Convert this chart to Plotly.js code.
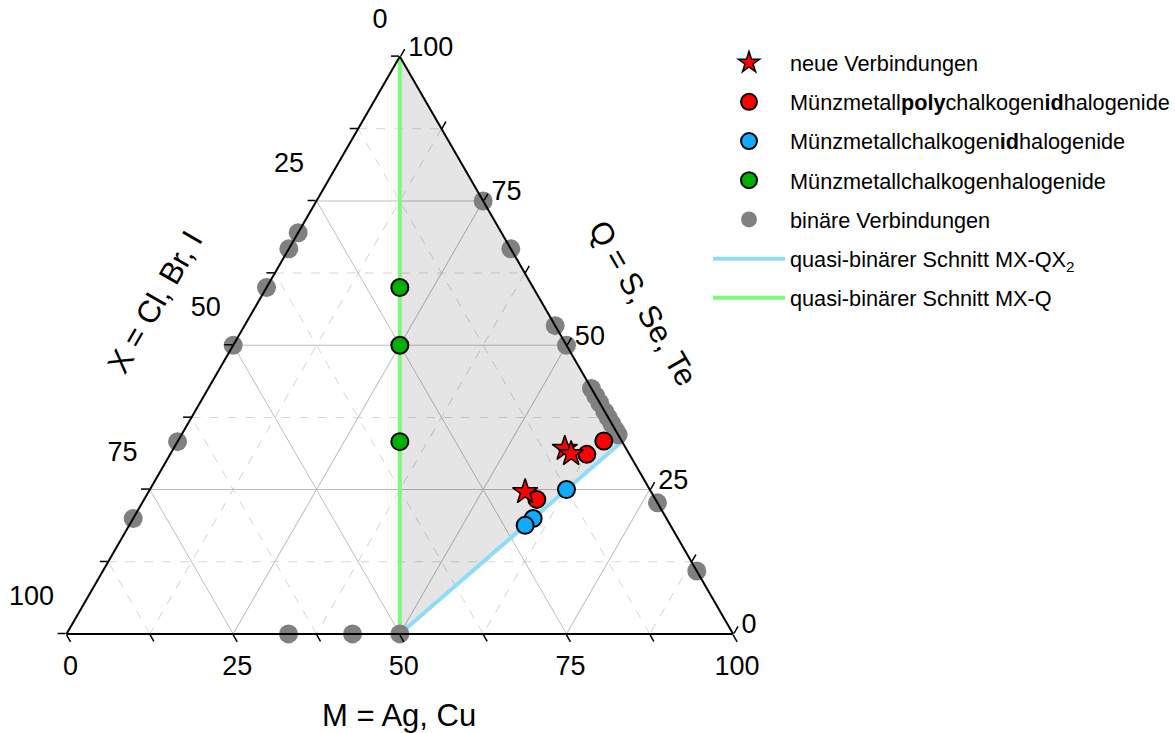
<!DOCTYPE html>
<html><head><meta charset="utf-8">
<script src="https://cdn.plot.ly/plotly-3.0.1.min.js"></script>
<style>html,body{margin:0;padding:0;background:#fff}#chart{width:1175px;height:733px}</style>
</head><body><div id="chart"></div>
<script>
// Ternary components in %: Q (top vertex), X (bottom-left vertex), M (bottom-right vertex)
const majorTicks = [0, 25, 50, 75, 100];
const majorTickText = ['100', '75', '50', '25', '0'];
const minorTicks = [12.5, 37.5, 62.5, 87.5];

// neue Verbindungen
const newQ = [32.1, 31.2, 24.6];
const newX = [9.2, 8.7, 18.9];
const newM = [58.7, 60.1, 56.5];

// Münzmetallpolychalkogenidhalogenide
const polyQ = [33.4, 31.1, 23.3];
const polyX = [2.7, 6.4, 17.8];
const polyM = [63.9, 62.5, 58.9];

// Münzmetallchalkogenidhalogenide
const idQ = [25.0, 20.0, 18.8];
const idX = [12.5, 20.0, 21.8];
const idM = [62.5, 60.0, 59.4];

// Münzmetallchalkogenhalogenide
const chalQ = [60.0, 50.0, 33.3];
const chalX = [20.0, 25.0, 33.35];
const chalM = [20.0, 25.0, 33.35];

// binäre Verbindungen
const binQ = [69.5, 66.7, 60.0, 50.0, 33.3, 20.0,  0.0,  0.0,  0.0,  75.0, 66.7, 53.4, 50.0, 42.5, 41.2, 40.0, 38.5, 37.5, 36.4, 35.3, 34.5, 22.7, 10.9];
const binX = [30.5, 33.3, 40.0, 50.0, 66.7, 80.0, 66.7, 57.1, 50.0,  0.0,  0.0,  0.0,  0.0,  0.0,  0.0,  0.0,  0.0,  0.0,  0.0,  0.0,  0.0,  0.0,  0.0];
const binM = [ 0.0,  0.0,  0.0,  0.0,  0.0,  0.0, 33.3, 42.9, 50.0, 25.0, 33.3, 46.6, 50.0, 57.5, 58.8, 60.0, 61.5, 62.5, 63.6, 64.7, 65.5, 77.3, 89.1];

// quasi-binäre Schnitte and region
const cutQX2Q = [0, 33.33], cutQX2X = [50, 0], cutQX2M = [50, 66.67];
const cutQQ = [0, 100], cutQX = [50, 0], cutQM = [50, 0];
const regionQ = [100, 0, 33.33, 100], regionX = [0, 50, 0, 0], regionM = [0, 50, 66.67, 0];

const FONT = 'Liberation Sans, Arial, sans-serif';

const traces = [
  {type:'scatterternary', subplot:'ternary', a:[], b:[], c:[], mode:'markers', showlegend:false, hoverinfo:'skip'},
  {type:'scatterternary', subplot:'ternary2', a:regionQ, b:regionX, c:regionM, mode:'lines',
   fill:'toself', fillcolor:'rgba(0,0,0,0.10)', line:{width:0, color:'rgba(0,0,0,0)'}, showlegend:false, hoverinfo:'skip'},
  {type:'scatterternary', subplot:'ternary2', a:cutQQ, b:cutQX, c:cutQM, mode:'lines', cliponaxis:false,
   line:{color:'#80f880', width:4}, name:'quasi-binärer Schnitt MX-Q', legendrank:7, legendgroup:'g7'},
  {type:'scatterternary', subplot:'ternary2', a:cutQX2Q, b:cutQX2X, c:cutQX2M, mode:'lines', cliponaxis:false,
   line:{color:'#8fdcfa', width:4}, name:'quasi-binärer Schnitt MX-QX<sub>2</sub>', legendrank:6, legendgroup:'g6'},
  {type:'scatterternary', subplot:'ternary2', a:binQ, b:binX, c:binM, mode:'markers', cliponaxis:false,
   marker:{color:'#808080', size:19, line:{width:0}}, name:'binäre Verbindungen', legendrank:5, legendgroup:'g5'},
  {type:'scatterternary', subplot:'ternary2', a:chalQ, b:chalX, c:chalM, mode:'markers', cliponaxis:false,
   marker:{color:'#00b000', size:17, line:{width:2, color:'#000'}}, name:'Münzmetallchalkogenhalogenide', legendrank:4, legendgroup:'g4'},
  {type:'scatterternary', subplot:'ternary2', a:idQ, b:idX, c:idM, mode:'markers', cliponaxis:false,
   marker:{color:'#10aaff', size:17, line:{width:2, color:'#000'}}, name:'Münzmetallchalkogen<b>id</b>halogenide', legendrank:3, legendgroup:'g3'},
  {type:'scatterternary', subplot:'ternary2', a:polyQ, b:polyX, c:polyM, mode:'markers', cliponaxis:false,
   marker:{color:'#ff0000', size:17, line:{width:2, color:'#000'}}, name:'Münzmetall<b>poly</b>chalkogen<b>id</b>halogenide', legendrank:2, legendgroup:'g2'},
  {type:'scatterternary', subplot:'ternary2', a:newQ, b:newX, c:newM, mode:'markers', cliponaxis:false,
   marker:{color:'#ff0000', size:19, symbol:'star', line:{width:1.5, color:'#000'}}, name:'neue Verbindungen', legendrank:1, legendgroup:'g1'}
];

const dom = {x:[66.7/1175, 735/1175], y:[99/733, 676.5/733]};

function majorAxis(labels){
  return {min:0, tickmode:'array', tickvals:majorTicks, ticktext:labels,
    ticks:'outside', ticklen:8, tickwidth:1.5, tickcolor:'#000',
    showline:true, linecolor:'#000', linewidth:2,
    showgrid:true, gridcolor:'#bdbdbd', gridwidth:1,
    tickfont:{family:FONT, size:27, color:'#000'}, title:{text:''}};
}
function minorAxis(){
  return {min:0, tickmode:'array', tickvals:minorTicks,
    ticks:'outside', ticklen:8, tickwidth:1.5, tickcolor:'#000',
    showticklabels:false, showline:false,
    showgrid:true, gridcolor:'#d6d6d6', gridwidth:1, griddash:'dash', title:{text:''}};
}
// left-edge labels sit above their tick (as in the reference): pad them with empty lines below
const leftLabels = majorTickText.map(t => t + '<br> <br> ');

const layout = {
  width:1175, height:733, margin:{l:0, r:0, t:0, b:0},
  paper_bgcolor:'#fff', font:{family:FONT, color:'#000'},
  ternary:{sum:100, domain:dom, bgcolor:'#fff', aaxis:minorAxis(), baxis:minorAxis(), caxis:minorAxis()},
  ternary2:{sum:100, domain:dom, bgcolor:'rgba(0,0,0,0)',
    aaxis:majorAxis(leftLabels), baxis:majorAxis(majorTickText), caxis:majorAxis(majorTickText)},
  showlegend:true,
  legend:{x:710/1175, y:1 - 42/733, xanchor:'left', yanchor:'top', bgcolor:'rgba(0,0,0,0)',
    font:{family:FONT, size:21.7, color:'#000'}, traceorder:'grouped', tracegroupgap:8, itemwidth:72},
  annotations:[
    {text:'X = Cl, Br, I', xref:'paper', yref:'paper', x:155/1175, y:1-302/733, xanchor:'center', yanchor:'middle', showarrow:false, textangle:-60, font:{size:31, family:FONT}},
    {text:'Q = S, Se, Te', xref:'paper', yref:'paper', x:645/1175, y:1-303/733, xanchor:'center', yanchor:'middle', showarrow:false, textangle:60, font:{size:31, family:FONT}},
    {text:'M = Ag, Cu', xref:'paper', yref:'paper', x:400/1175, y:1-715/733, xanchor:'center', yanchor:'middle', showarrow:false, font:{size:31, family:FONT}}
  ]
};

Plotly.newPlot('chart', traces, layout, {displayModeBar:false, staticPlot:true});
</script></body></html>
